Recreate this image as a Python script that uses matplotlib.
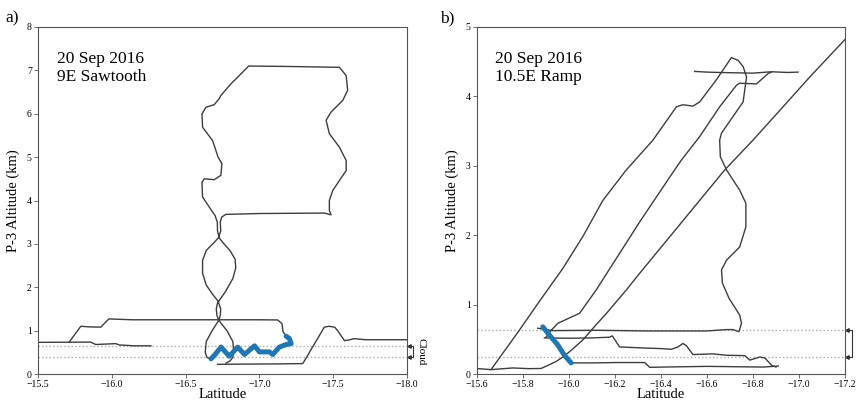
import matplotlib
matplotlib.use("Agg")
from matplotlib import pyplot as plt

plt.rcParams['font.family'] = ['Liberation Serif', 'DejaVu Serif']

# ---- panel a) 9E Sawtooth ----
a_west_lat = [-15.5, -15.857, -15.891, -16.027, -16.05, -16.151, -16.265]
a_west_alt = [0.73, 0.735, 0.68, 0.70, 0.67, 0.65, 0.65]

a_mid_lat = [-15.71, -15.79, -15.857, -15.925, -15.98, -16.14, -16.6, -17.0, -17.124,
             -17.153, -17.16, -17.18, -17.19]
a_mid_alt = [0.73, 1.10, 1.085, 1.08, 1.27, 1.25, 1.25, 1.25, 1.246, 1.16, 0.97, 0.89, 0.85]

a_east_lat = [-16.717, -16.9, -17.1, -17.294, -17.44, -17.47, -17.51, -17.53, -17.576,
              -17.6, -17.644, -17.72, -18.0]
a_east_alt = [0.223, 0.228, 0.232, 0.24, 1.08, 1.10, 1.08, 1.0, 0.77, 0.78, 0.815, 0.79, 0.79]

a_spiral_lat = [-16.774, -16.80, -16.82, -16.825, -16.82, -16.78, -16.745, -16.725, -16.712,
                -16.708, -16.715, -16.725, -16.77, -16.82, -16.84, -16.835, -16.80, -16.755,
                -16.728, -16.716, -16.715, -16.70, -16.66, -16.615, -16.611, -16.627, -16.694,
                -16.739, -16.746, -16.72, -16.683, -16.615, -16.611, -16.638, -16.694, -16.728,
                -16.739, -16.807, -16.864, -16.927, -17.2, -17.542, -17.588, -17.598, -17.565,
                -17.486, -17.452, -17.474, -17.542, -17.588, -17.588, -17.542, -17.497, -17.474,
                -17.474, -17.486, -17.44, -17.0, -16.773, -16.745, -16.735, -16.738, -16.722,
                -16.69, -16.64, -16.615, -16.615, -16.64, -16.68, -16.72, -16.738, -16.735,
                -16.725, -16.68, -16.64, -16.633, -16.645, -16.67]
a_spiral_alt = [0.25, 0.30, 0.38, 0.55, 0.75, 1.0, 1.15, 1.24, 1.35, 1.5, 1.62, 1.68, 1.9,
                2.2, 2.45, 2.65, 2.85, 3.02, 3.14, 3.3, 3.5, 3.65, 3.85, 4.08, 4.42, 4.50, 4.48,
                4.58, 4.85, 5.0, 5.38, 5.69, 6.0, 6.15, 6.21, 6.35, 6.42, 6.69, 6.88, 7.10, 7.09,
                7.07, 6.88, 6.54, 6.31, 6.04, 5.85, 5.54, 5.23, 4.92, 4.69, 4.46, 4.23, 4.0,
                3.77, 3.67, 3.71, 3.70, 3.68, 3.62, 3.5, 3.3, 3.14, 3.02, 2.85, 2.62, 2.32,
                2.05, 1.85, 1.68, 1.5, 1.35, 1.24, 1.0, 0.75, 0.5, 0.38, 0.35]

a_blue_lat = [-16.672, -16.70, -16.74, -16.796, -16.853, -16.899, -16.967, -17.0, -17.068,
              -17.09, -17.135, -17.181, -17.215, -17.203, -17.181]
a_blue_alt = [0.35, 0.45, 0.62, 0.41, 0.62, 0.45, 0.65, 0.51, 0.51, 0.45, 0.62, 0.68, 0.70,
              0.82, 0.87]

a_cloud = [0.65, 0.40]

# ---- panel b) 10.5E Ramp ----
b_ramp1_lat = [-15.607, -15.661, -15.784, -15.872, -15.973, -16.06, -16.147, -16.249, -16.365,
               -16.467, -16.495, -16.539, -16.568, -16.641, -16.706, -16.735, -16.757, -16.772,
               -16.764, -16.757, -16.713, -16.663, -16.655, -16.658, -16.685, -16.742, -16.769,
               -16.769, -16.742, -16.685, -16.663, -16.667, -16.696, -16.742, -16.75, -16.739,
               -16.713, -16.685, -16.597, -16.35, -16.118, -15.93, -15.864]
b_ramp1_alt = [0.077, 0.063, 0.63, 1.05, 1.52, 1.98, 2.5, 2.94, 3.37, 3.85, 3.88, 3.86, 3.92,
               4.24, 4.56, 4.52, 4.43, 4.28, 4.09, 3.92, 3.71, 3.47, 3.37, 3.13, 2.94, 2.65,
               2.46, 2.12, 1.83, 1.64, 1.50, 1.31, 1.09, 0.85, 0.73, 0.61, 0.64, 0.64, 0.62,
               0.62, 0.63, 0.625, 0.66]

b_ramp2_lat = [-15.90, -15.92, -15.951, -16.046, -16.118, -16.307, -16.459, -16.488, -16.568,
               -16.655, -16.728, -16.742, -16.815, -16.866, -16.88]
b_ramp2_alt = [0.53, 0.62, 0.73, 0.875, 1.21, 2.19, 2.94, 3.08, 3.42, 3.85, 4.16, 4.19, 4.18,
               4.33, 4.35]

b_ramp3_lat = [-15.661, -15.755, -15.828, -15.879, -15.915, -15.944, -15.973, -16.002, -16.06,
               -16.118, -16.162, -16.249, -16.307, -16.677, -16.80, -16.917, -17.047, -17.2]
b_ramp3_alt = [0.063, 0.087, 0.077, 0.08, 0.135, 0.18, 0.245, 0.32, 0.49, 0.71, 0.87, 1.21,
               1.45, 2.94, 3.37, 3.80, 4.28, 4.82]

b_top_lat = [-16.546, -16.6, -16.65, -16.72, -16.8, -16.88, -16.95, -16.996]
b_top_alt = [4.36, 4.35, 4.345, 4.34, 4.335, 4.355, 4.345, 4.35]

b_half_lat = [-15.893, -16.0, -16.1, -16.176, -16.188, -16.22, -16.322, -16.409, -16.445,
              -16.474, -16.495, -16.51, -16.539, -16.626, -16.685, -16.764, -16.786, -16.83,
              -16.852, -16.881, -16.9]
b_half_alt = [0.52, 0.515, 0.52, 0.53, 0.55, 0.39, 0.375, 0.365, 0.356, 0.39, 0.44, 0.41, 0.28,
              0.29, 0.27, 0.265, 0.20, 0.245, 0.23, 0.125, 0.10]

b_low_lat = [-16.009, -16.1, -16.2, -16.329, -16.351, -16.409, -16.6, -16.844, -16.91]
b_low_alt = [0.16, 0.16, 0.165, 0.165, 0.096, 0.10, 0.11, 0.10, 0.115]

b_blue_lat = [-15.886, -15.915, -15.951, -15.98, -16.009]
b_blue_alt = [0.68, 0.56, 0.42, 0.27, 0.16]

b_cloud = [0.63, 0.245]

track_color = '#3d3d3d'
blue = '#1f77b4'
lw = 1.0

fig = plt.figure(figsize=(8.6, 4.01), dpi=100)
ax1 = fig.add_axes([38 / 860, 1 - 374 / 401, 369 / 860, 347 / 401])
ax2 = fig.add_axes([477 / 860, 1 - 374 / 401, 368 / 860, 347 / 401])


def style(ax, xlim, ylim, xticks, yticks, fmt):
    ax.set_xlim(*xlim)
    ax.set_ylim(*ylim)
    ax.set_xticks(xticks)
    ax.set_xticklabels([fmt.format(t).replace('-', '\u2212') for t in xticks])
    ax.set_yticks(yticks)
    ax.tick_params(labelsize=7, length=3, width=0.6, color='#555555', pad=1.5)
    for s in ax.spines.values():
        s.set_color('#555555')
        s.set_linewidth(0.8)
    ax.set_xlabel('Latitude', fontsize=10.5)
    ax.set_ylabel('P-3 Altitude (km)', fontsize=10.5)
    ax.xaxis.set_label_coords(0.5, -0.039)
    ax.yaxis.set_label_coords(-0.05, 0.5)


def cloud_bracket(ax, lims, dx):
    tr = ax.get_yaxis_transform()
    top, bot = lims
    x0, x1 = 1 + 0.006, 1 + 0.006 + dx
    ax.plot([x0, x1, x1, x0], [top, top, bot, bot], color='#333333', lw=0.8,
            transform=tr, clip_on=False)
    ax.plot([x0, x0], [top, bot], ls='none', marker='<', ms=2.5, color='#333333',
            transform=tr, clip_on=False)
    ax.text(x1 + 0.012, (top + bot) / 2, 'Cloud', rotation=270, fontsize=8,
            va='center', ha='left', transform=tr)


# panel a
for y in a_cloud:
    ax1.axhline(y, color='#aaaaaa', ls=':', lw=1)
ax1.plot(a_west_lat, a_west_alt, color=track_color, lw=lw)
ax1.plot(a_mid_lat, a_mid_alt, color=track_color, lw=lw)
ax1.plot(a_east_lat, a_east_alt, color=track_color, lw=lw)
ax1.plot(a_spiral_lat, a_spiral_alt, color=track_color, lw=lw)
ax1.plot(a_blue_lat, a_blue_alt, color=blue, lw=3.6, solid_capstyle='round', solid_joinstyle='round')
style(ax1, (-15.5, -18.0), (0, 8), [-15.5, -16.0, -16.5, -17.0, -17.5, -18.0],
      range(0, 9), '{:.1f}')
cloud_bracket(ax1, a_cloud, 0.009)
ax1.text(0.052, 0.93, '20 Sep 2016\n9E Sawtooth', transform=ax1.transAxes, fontsize=12.5,
         va='top', ha='left', linespacing=1.15)
fig.text(5 / 860, 1 - 18 / 401, 'a)', fontsize=12.5, va='center', ha='left')

# panel b
for y in b_cloud:
    ax2.axhline(y, color='#aaaaaa', ls=':', lw=1)
ax2.plot(b_ramp1_lat, b_ramp1_alt, color=track_color, lw=lw)
ax2.plot(b_ramp2_lat, b_ramp2_alt, color=track_color, lw=lw)
ax2.plot(b_ramp3_lat, b_ramp3_alt, color=track_color, lw=lw)
ax2.plot(b_top_lat, b_top_alt, color=track_color, lw=lw)
ax2.plot(b_half_lat, b_half_alt, color=track_color, lw=lw)
ax2.plot(b_low_lat, b_low_alt, color=track_color, lw=lw)
ax2.plot(b_blue_lat, b_blue_alt, color=blue, lw=3.6, solid_capstyle='round')
style(ax2, (-15.6, -17.2), (0, 5), [-15.6, -15.8, -16.0, -16.2, -16.4, -16.6, -16.8, -17.0, -17.2],
      range(0, 6), '{:.1f}')
cloud_bracket(ax2, b_cloud, 0.012)
ax2.text(0.05, 0.93, '20 Sep 2016\n10.5E Ramp', transform=ax2.transAxes, fontsize=12.5,
         va='top', ha='left', linespacing=1.15)
fig.text(440 / 860, 1 - 18 / 401, 'b)', fontsize=12.5, va='center', ha='left')

fig.savefig('out.png', dpi=100)
